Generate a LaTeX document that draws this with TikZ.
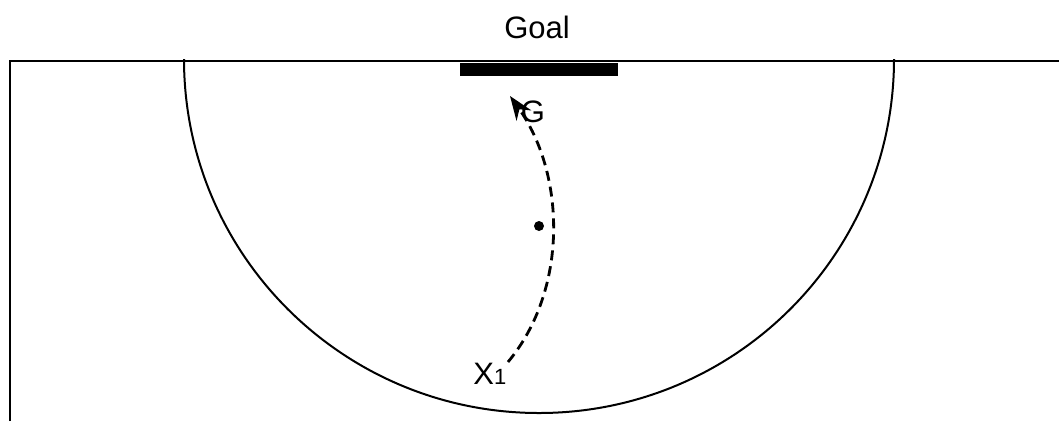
\documentclass[tikz,border=0pt]{standalone}
\usepackage{fontspec}
\setmainfont{Liberation Sans}
\usetikzlibrary{arrows.meta}
\begin{document}
\begin{tikzpicture}[x=0.5pt,y=-0.5pt,
  fieldline/.style={line width=1pt,black},
  lbl/.style={font=\fontsize{15.5}{18}\selectfont,inner sep=0pt},
  pathline/.style={line width=1.4pt,dash pattern=on 5pt off 3pt,-{Stealth[length=12pt,width=9pt]}}]
\useasboundingbox (0,0) rectangle (1059,425);
\draw[fieldline] (9.5,421) -- (9.5,61) -- (1059,61);
\draw[fieldline] (184,59) arc[start angle=180,end angle=360,x radius=355,y radius=-354];
\fill[black] (460,63) rectangle (618,76);
\node[lbl] (goal) at (537,27) {Goal};
\node[lbl] (g) at (533,112) {G};
\node[lbl,anchor=base west] (x1) at (473,384) {X{\fontsize{11}{12}\selectfont 1}};
\fill[black] (539,226) circle[radius=5];
\coordinate (s) at (508,362);
\coordinate (e) at (510,96);
\draw[pathline] (s) .. controls (568,290) and (566,175) .. (e);
\end{tikzpicture}
\end{document}
